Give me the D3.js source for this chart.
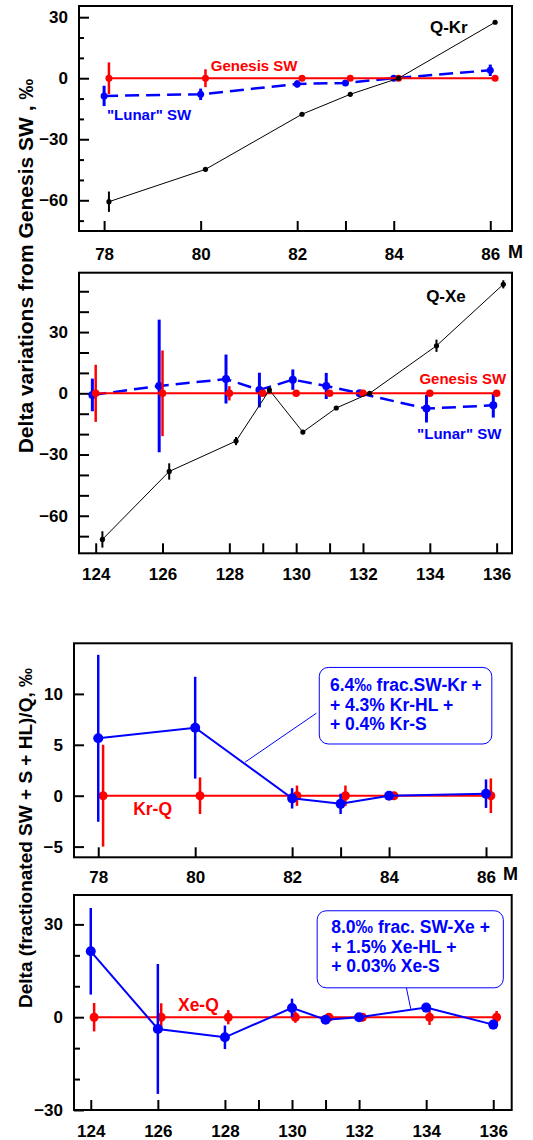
<!DOCTYPE html>
<html>
<head>
<meta charset="utf-8">
<script src="https://cdn.jsdelivr.net/npm/d3@7"></script>
<style>
  body { margin: 0; background: #fff; }
  svg { display: block; }
  text { font-family: "Liberation Sans", Arial, sans-serif; font-weight: bold; }
</style>
</head>
<body>
<div id="viz"></div>
<script>
const width = 533;
const height = 1140;

// Kr isotopes
const krMass = [78, 80, 82, 83, 84, 86];
const krTickMass = [78, 80, 82, 83, 84, 86];
const krLabelMass = [78, 80, 82, 84, 86];
// Xe isotopes
const xeMass = [124, 126, 128, 129, 130, 131, 132, 134, 136];
const xeTickMass = [124, 126, 128, 129, 130, 131, 132, 134, 136];
const xeLabelMass = [124, 126, 128, 130, 132, 134, 136];
const xeFitMass = [124, 126, 128, 130, 131, 132, 134, 136];

// top panel: Kr, delta vs Genesis SW (permil)
const krGenesis = [0, 0, 0, 0, 0, 0];
const krGenesisErr = [7.8, 4.4, 0.8, 0.6, 0.3, 0.5];
const krLunar = [-8.7, -7.9, -2.8, -2.3, 0, 3.9];
const krLunarErr = [5.0, 2.8, 1.8, 1.2, 0.5, 2.8];
const krQ = [-60.7, -44.8, -17.7, -7.9, 0, 27.5];
const krQErr = [5.0, 1.0, 0.8, 0.8, 0.5, 0.8];

// second panel: Xe, delta vs Genesis SW (permil)
const xeGenesis = [0, 0, 0, 0, 0, 0, 0, 0, 0];
const xeGenesisErr = [14, 21, 3.5, 0.8, 0.8, 0.5, 0.5, 0.8, 0.8];
const xeLunar = [-0.8, 3.6, 7.0, 1.6, 6.7, 3.6, 0, -7.5, -5.9];
const xeLunarErr = [8, 32.5, 12, 8.5, 5, 6.4, 0.5, 6.8, 6];
const xeQ = [-71.6, -38.3, -23.4, 1.6, -19, -7.2, 0, 23.3, 53.4];
const xeQErr = [4, 4, 2, 1.5, 1, 0.8, 0.5, 3, 2];

// third panel: Kr, (fractionated SW + S + HL)/Q
const krFit = [5.64, 6.68, -0.26, -0.8, 0, 0.2];
const krFitErr = [8.2, 5, 1.0, 1.0, 0.2, 1.4];
const krQres = [0, 0, 0, 0, 0, 0];
const krQresErr = [5, 1.8, 1.0, 1.0, 0.2, 1.7];

// bottom panel: Xe, (fractionated SW + S + HL)/Q
const xeFit = [21.3, -3.8, -6.5, 3.0, -0.8, 0, 3.1, -2.4];
const xeFitErr = [14, 21, 3.8, 3, 0.8, 0.5, 1.5, 1.5];
const xeQres = [0, 0, 0, 0, 0, 0, 0, 0];
const xeQresErr = [4.6, 4.5, 2.3, 1.8, 0.5, 0.5, 2.5, 2.0];

const krNote = ['6.4\u2030 frac.SW-Kr +', '+ 4.3% Kr-HL +', '+ 0.4% Kr-S'];
const xeNote = ['8.0\u2030 frac. SW-Xe +', '+ 1.5% Xe-HL +', '+ 0.03% Xe-S'];

const RED = '#ff0000';
const BLUE = '#0000ff';
const TICK_FONT = '17px';

const svg = d3.select('#viz')
  .append('svg')
    .attr('width', width)
    .attr('height', height)
    .attr('viewBox', [0, 0, width, height]);

const panels = [
  {
    frame: {x0: 79, x1: 512, y0: 6, y1: 231},
    xDomain: [77.48, 86.45], yDomain: [-75.1, 35.5],
    xTicks: krTickMass, xLabels: krLabelMass, labelPad: 17,
    yMajor: [30, 0, -30, -60], yMinor: [20, 10, -10, -20, -40, -50, -70],
    majorLen: 10, minorLen: 5, mLabel: {x: 508, y: 258},
    series: [
      {mass: krMass, val: krLunar, err: krLunarErr, dx: 0, color: BLUE, r: 3.5, lw: 2.5, dash: '14,7', ew: 3},
      {mass: krMass, val: krGenesis, err: krGenesisErr, dx: 0.1, color: RED, r: 3.5, lw: 2, ew: 2.5},
      {mass: krMass, val: krQ, err: krQErr, dx: 0.1, color: '#000', r: 2.6, lw: 1, ew: 2}
    ],
    labels: [
      {text: 'Q-Kr', x: 84.75, y: 22.4, color: '#000', size: 17},
      {text: 'Genesis SW', x: 80.21, y: 3.6, color: RED, size: 15},
      {text: '"Lunar" SW', x: 78.06, y: -20.5, color: BLUE, size: 15}
    ]
  },
  {
    frame: {x0: 79, x1: 512, y0: 272.7, y1: 553.3},
    xDomain: [123.5, 136.46], yDomain: [-78.4, 59.1],
    xTicks: xeTickMass, xLabels: xeLabelMass, labelPad: 15,
    yMajor: [30, 0, -30, -60], yMinor: [50, 40, 20, 10, -10, -20, -40, -50, -70],
    majorLen: 10, minorLen: 10,
    series: [
      {mass: xeMass, val: xeLunar, err: xeLunarErr, dx: -0.1, color: BLUE, r: 4, lw: 2.5, dash: '14,7', ew: 3},
      {mass: xeMass, val: xeGenesis, err: xeGenesisErr, dx: 0, color: RED, r: 3.8, lw: 2, ew: 2.5},
      {mass: xeMass, val: xeQ, err: xeQErr, dx: 0.2, color: '#000', r: 2.6, lw: 1, ew: 2}
    ],
    labels: [
      {text: 'Q-Xe', x: 133.89, y: 44.9, color: '#000', size: 17},
      {text: 'Genesis SW', x: 133.69, y: 4.6, color: RED, size: 15},
      {text: '"Lunar" SW', x: 133.62, y: -22.5, color: BLUE, size: 15}
    ]
  },
  {
    frame: {x0: 74, x1: 511.7, y0: 643.3, y1: 857.3},
    xDomain: [77.5, 86.53], yDomain: [-6.05, 14.97],
    xTicks: krTickMass, xLabels: krLabelMass, labelPad: 14,
    yMajor: [10, 5, 0, -5], yMinor: [],
    majorLen: 10, minorLen: 5, mLabel: {x: 503, y: 880},
    series: [
      {mass: krMass, val: krQres, err: krQresErr, dx: 0.1, color: RED, r: 4.5, lw: 2, ew: 2.5},
      {mass: krMass, val: krFit, err: krFitErr, dx: 0, color: BLUE, r: 5, lw: 2, ew: 2.5}
    ],
    labels: [
      {text: 'Kr-Q', x: 78.72, y: -1.9, color: RED, size: 17.5}
    ],
    note: {lines: krNote, x0: 82.56, x1: 86.12, y0: 12.6, y1: 5.08,
           tx: 82.78, ty: [10.28, 8.31, 6.42], lineFrom: [82.5, 8.1], lineTo: [81.03, 3.3]}
  },
  {
    frame: {x0: 74, x1: 511.7, y0: 895, y1: 1110},
    xDomain: [123.5, 136.55], yDomain: [-30, 39.5],
    xTicks: xeTickMass, xLabels: xeLabelMass, labelPad: 15,
    yMajor: [30, 0, -30], yMinor: [20, 10, -10, -20],
    majorLen: 10, minorLen: 6,
    series: [
      {mass: xeFitMass, val: xeQres, err: xeQresErr, dx: 0.1, color: RED, r: 4.5, lw: 2, ew: 2.5},
      {mass: xeFitMass, val: xeFit, err: xeFitErr, dx: 0, color: BLUE, r: 5, lw: 2, ew: 2.5}
    ],
    labels: [
      {text: 'Xe-Q', x: 126.6, y: 1.95, color: RED, size: 17.5}
    ],
    note: {lines: xeNote, x0: 130.75, x1: 136.3, y0: 34.4, y1: 9.5,
           tx: 131.17, ty: [27.3, 20.8, 14.5], lineFrom: [133.41, 9.5], lineTo: [133.54, 2.7]}
  }
];

const styleTickText = a => a.selectAll('text')
  .attr('fill', '#000')
  .style('font-size', TICK_FONT)
  .style('font-family', '"Liberation Sans", Arial, sans-serif')
  .style('font-weight', 'bold');

const drawPanel = (p) => {
  const f = p.frame;
  const x = d3.scaleLinear().domain(p.xDomain).range([f.x0, f.x1]);
  const y = d3.scaleLinear().domain(p.yDomain).range([f.y1, f.y0]);
  const g = svg.append('g');

  // inward ticks on the bottom
  g.append('g')
      .attr('transform', `translate(0, ${f.y1})`)
    .call(d3.axisBottom(x).tickValues(p.xTicks).tickSize(-10).tickFormat(''))
    .call(a => a.select('.domain').remove())
    .call(a => a.selectAll('line').attr('stroke', '#000').attr('stroke-width', 2));

  // x tick labels
  g.append('g')
      .attr('transform', `translate(0, ${f.y1})`)
    .call(d3.axisBottom(x).tickValues(p.xLabels).tickSize(0).tickPadding(p.labelPad))
    .call(a => a.select('.domain').remove())
    .call(styleTickText);

  // y ticks, major and minor, inward
  g.append('g')
      .attr('transform', `translate(${f.x0}, 0)`)
    .call(d3.axisLeft(y).tickValues(p.yMajor).tickSize(-p.majorLen).tickFormat(''))
    .call(a => a.select('.domain').remove())
    .call(a => a.selectAll('line').attr('stroke', '#000').attr('stroke-width', 2));
  if (p.yMinor.length) {
    g.append('g')
        .attr('transform', `translate(${f.x0}, 0)`)
      .call(d3.axisLeft(y).tickValues(p.yMinor).tickSize(-p.minorLen).tickFormat(''))
      .call(a => a.select('.domain').remove())
      .call(a => a.selectAll('line').attr('stroke', '#000').attr('stroke-width', 2));
  }
  g.append('g')
      .attr('transform', `translate(${f.x0}, 0)`)
    .call(d3.axisLeft(y).tickValues(p.yMajor).tickSize(0).tickPadding(11))
    .call(a => a.select('.domain').remove())
    .call(styleTickText);

  // series: line, error bars, markers
  p.series.forEach(s => {
    const pts = s.mass.map((m, i) => ({m: m + s.dx, v: s.val[i], e: s.err[i]}));
    const line = d3.line().x(d => x(d.m)).y(d => y(d.v));
    g.append('path')
      .datum(pts)
      .attr('d', line)
      .attr('fill', 'none')
      .attr('stroke', s.color)
      .attr('stroke-width', s.lw)
      .attr('stroke-dasharray', s.dash || null);
    g.append('g')
      .selectAll('line')
      .data(pts)
      .join('line')
        .attr('x1', d => x(d.m))
        .attr('x2', d => x(d.m))
        .attr('y1', d => y(d.v - d.e))
        .attr('y2', d => y(d.v + d.e))
        .attr('stroke', s.color)
        .attr('stroke-width', s.ew);
    g.append('g')
      .selectAll('circle')
      .data(pts)
      .join('circle')
        .attr('cx', d => x(d.m))
        .attr('cy', d => y(d.v))
        .attr('r', s.r)
        .attr('fill', s.color);
  });

  // annotation box with leader line
  if (p.note) {
    const n = p.note;
    g.append('line')
      .attr('x1', x(n.lineFrom[0])).attr('y1', y(n.lineFrom[1]))
      .attr('x2', x(n.lineTo[0])).attr('y2', y(n.lineTo[1]))
      .attr('stroke', BLUE).attr('stroke-width', 1);
    g.append('rect')
      .attr('x', x(n.x0)).attr('y', y(n.y0))
      .attr('width', x(n.x1) - x(n.x0)).attr('height', y(n.y1) - y(n.y0))
      .attr('rx', 9).attr('ry', 9)
      .attr('fill', '#fff')
      .attr('stroke', BLUE).attr('stroke-width', 1);
    g.selectAll('.note')
      .data(n.lines)
      .join('text')
        .attr('class', 'note')
        .attr('x', x(n.tx))
        .attr('y', (d, i) => y(n.ty[i]))
        .attr('fill', BLUE)
        .style('font-size', '17.5px')
        .text(d => d);
  }

  // series labels
  g.selectAll('.lab')
    .data(p.labels)
    .join('text')
      .attr('class', 'lab')
      .attr('x', d => x(d.x))
      .attr('y', d => y(d.y))
      .attr('fill', d => d.color)
      .style('font-size', d => d.size + 'px')
      .text(d => d.text);

  // frame
  g.append('rect')
    .attr('x', f.x0).attr('y', f.y0)
    .attr('width', f.x1 - f.x0).attr('height', f.y1 - f.y0)
    .attr('fill', 'none')
    .attr('stroke', '#000')
    .attr('stroke-width', 2);

  if (p.mLabel) {
    g.append('text')
      .attr('x', p.mLabel.x).attr('y', p.mLabel.y)
      .attr('fill', '#000')
      .style('font-size', '18px')
      .text('M');
  }
};

panels.forEach(drawPanel);

// shared y titles
svg.append('text')
  .attr('transform', 'translate(33, 266) rotate(-90)')
  .attr('text-anchor', 'middle')
  .style('font-size', '21px')
  .text('Delta variations from Genesis SW , \u2030');

svg.append('text')
  .attr('transform', 'translate(32, 838) rotate(-90)')
  .attr('text-anchor', 'middle')
  .style('font-size', '19px')
  .text('Delta (fractionated SW + S + HL)/Q, \u2030');
</script>
</body>
</html>
